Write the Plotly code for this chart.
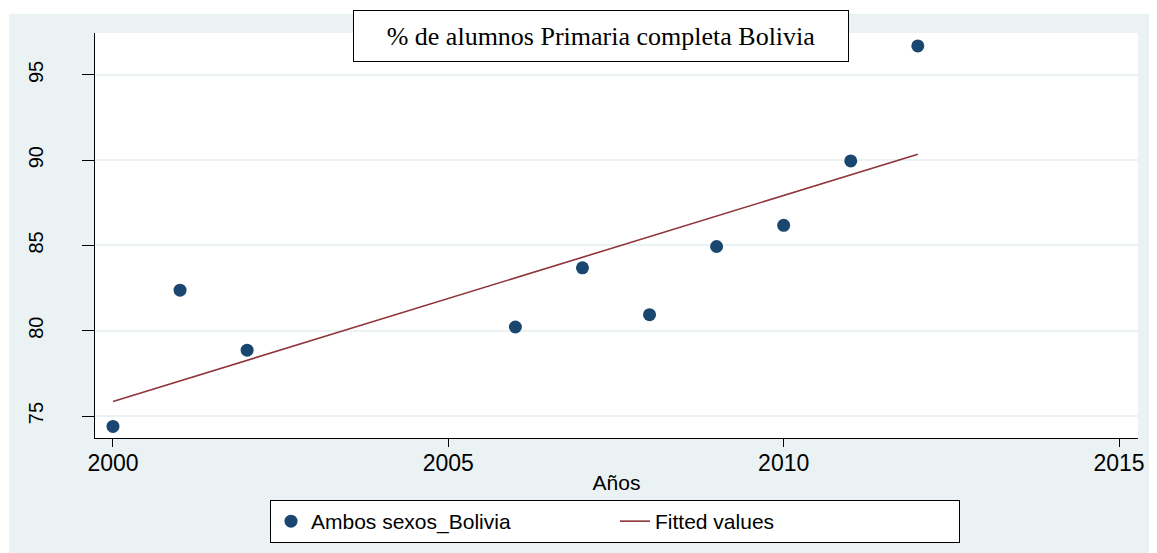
import plotly.graph_objects as go

# ---- data ----
years = [2000, 2001, 2002, 2006, 2007, 2008, 2009, 2010, 2011, 2012]
ambos_sexos = [74.39, 82.38, 78.86, 80.22, 83.69, 80.94, 84.94, 86.18, 89.96, 96.70]
fit_years = [2000, 2012]
fit_values = [75.85, 90.35]
x_ticks = [2000, 2005, 2010, 2015]
y_ticks = [75, 80, 85, 90, 95]
title_text = "% de alumnos Primaria completa Bolivia"
series_name = "Ambos sexos_Bolivia"
fit_name = "Fitted values"
x_title = "Años"

# page has an 8px body margin; figure sits at (8, 8)
OFF = 8
W, H = 1157 - OFF, 553 - OFF
L, R, T, B = 95 - OFF, 19, 33 - OFF, 115
pw, ph = W - L - R, H - T - B

def px_x(p):  # page x -> paper x
    return (p - OFF - L) / pw

def px_y(p):  # page y -> paper y
    return (H - B - (p - OFF)) / ph

BG = "#EAF2F3"
NAVY = "#1A476F"
MAROON = "#90353B"

fig = go.Figure()
fig.add_trace(go.Scatter(
    x=years, y=ambos_sexos, mode="markers", name=series_name,
    marker=dict(color=NAVY, size=13, line=dict(width=0)),
))
fig.add_trace(go.Scatter(
    x=fit_years, y=fit_values, mode="lines", name=fit_name,
    line=dict(color=MAROON, width=1.6),
))

shapes = [
    dict(type="rect", xref="paper", yref="paper", x0=px_x(OFF), x1=px_x(1157),
         y0=px_y(14), y1=px_y(OFF), fillcolor="white", line=dict(width=0), layer="below"),
    dict(type="rect", xref="paper", yref="paper", x0=px_x(OFF), x1=px_x(9),
         y0=px_y(553), y1=px_y(OFF), fillcolor="white", line=dict(width=0), layer="below"),
]

fig.update_layout(
    width=W, height=H,
    margin=dict(l=L, r=R, t=T, b=B, autoexpand=False),
    paper_bgcolor=BG, plot_bgcolor="white",
    font=dict(family="Liberation Sans, Arial", color="black", size=19),
    showlegend=True,
    legend=dict(
        orientation="h", x=px_x(615), xanchor="center", y=px_y(500), yanchor="top",
        bgcolor="white", bordercolor="black", borderwidth=1,
        font=dict(size=21), itemwidth=30, entrywidth=299, entrywidthmode="pixels",
    ),
    shapes=shapes,
    annotations=[dict(
        text=title_text, xref="paper", yref="paper",
        x=px_x(601), y=px_y(35.5), xanchor="center", yanchor="middle",
        showarrow=False, font=dict(family="Liberation Serif, Times New Roman", size=26, color="black"),
        bgcolor="white", bordercolor="black", borderwidth=1, borderpad=0,
        width=494, height=50,
    )],
)

fig.update_xaxes(
    range=[1999.732, 2015.283], tickvals=x_ticks, ticks="outside", ticklen=8,
    tickcolor="black", showline=True, linecolor="black", linewidth=1,
    showgrid=False, zeroline=False, ticklabelstandoff=-4,
    tickfont=dict(size=23),
    title=dict(text=x_title, font=dict(size=21), standoff=0),
)
fig.update_yaxes(
    range=[73.71, 97.46], tickvals=y_ticks, ticks="outside", ticklen=12,
    tickcolor="black", showline=True, linecolor="black", linewidth=1,
    showgrid=True, gridcolor=BG, gridwidth=1.5, zeroline=False,
    tickangle=-90, ticklabelstandoff=31, tickfont=dict(size=20),
)

fig.write_html("out.html")
